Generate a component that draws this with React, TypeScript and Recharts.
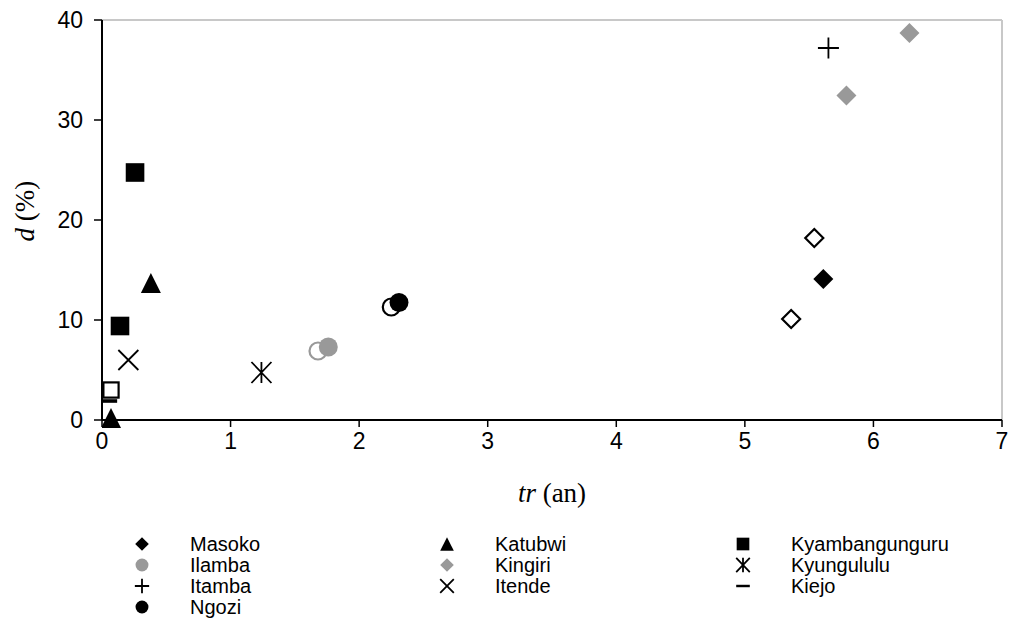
import React from 'react';
import { ScatterChart, Scatter, XAxis, YAxis, ReferenceLine, Legend, Label } from 'recharts';

// ---- data (tr in years, d in %) ----
const masoko = [{ tr: 5.61, d: 14.1 }];
const masokoOpen = [{ tr: 5.54, d: 18.2 }, { tr: 5.36, d: 10.1 }];
const ilamba = [{ tr: 1.76, d: 7.3 }];
const ilambaOpen = [{ tr: 1.68, d: 6.9 }];
const itamba = [{ tr: 5.65, d: 37.2 }];
const ngozi = [{ tr: 2.31, d: 11.75 }];
const ngoziOpen = [{ tr: 2.25, d: 11.3 }];
const katubwi = [{ tr: 0.38, d: 13.7 }, { tr: 0.07, d: 0.2 }];
const kingiri = [{ tr: 6.28, d: 38.7 }, { tr: 5.79, d: 32.45 }];
const itende = [{ tr: 0.205, d: 6.0 }];
const kyambangunguru = [{ tr: 0.257, d: 24.75 }, { tr: 0.14, d: 9.4 }];
const kyambangunguruOpen = [{ tr: 0.07, d: 3.0 }];
const kyungululu = [{ tr: 1.24, d: 4.75 }];
const kiejo = [{ tr: 0.04, d: 1.9 }];

const xTicks = [0, 1, 2, 3, 4, 5, 6, 7];
const yTicks = [0, 10, 20, 30, 40];
const legendOrder = [
  'Masoko', 'Katubwi', 'Kyambangunguru',
  'Ilamba', 'Kingiri', 'Kyungululu',
  'Itamba', 'Itende', 'Kiejo',
  'Ngozi',
];

// ---- styles ----
const BLACK = '#000000';
const GRAY = '#999999';
type Kind = 'diamond' | 'square' | 'circle' | 'triangle' | 'plus' | 'x' | 'asterisk' | 'dash';
const styles: Record<string, { kind: Kind; color: string }> = {
  Masoko: { kind: 'diamond', color: BLACK },
  Ilamba: { kind: 'circle', color: GRAY },
  Itamba: { kind: 'plus', color: BLACK },
  Ngozi: { kind: 'circle', color: BLACK },
  Katubwi: { kind: 'triangle', color: BLACK },
  Kingiri: { kind: 'diamond', color: GRAY },
  Itende: { kind: 'x', color: BLACK },
  Kyambangunguru: { kind: 'square', color: BLACK },
  Kyungululu: { kind: 'asterisk', color: BLACK },
  Kiejo: { kind: 'dash', color: BLACK },
};

function marker(kind: Kind, cx: number, cy: number, color: string, open: boolean, s: number, key?: string) {
  const fill = open ? '#ffffff' : color;
  const stroke = open ? color : 'none';
  const sw = 2.2;
  switch (kind) {
    case 'diamond': {
      const r = (open ? 9 : 10) * s;
      return <path key={key} d={`M${cx},${cy - r}L${cx + r},${cy}L${cx},${cy + r}L${cx - r},${cy}Z`} fill={fill} stroke={stroke} strokeWidth={sw} />;
    }
    case 'square': {
      const h = (open ? 7.6 : 9.3) * s;
      return <rect key={key} x={cx - h} y={cy - h} width={2 * h} height={2 * h} fill={fill} stroke={stroke} strokeWidth={sw} />;
    }
    case 'circle': {
      const r = (open ? 8.5 : 9.5) * s;
      return <circle key={key} cx={cx} cy={cy} r={r} fill={fill} stroke={stroke} strokeWidth={sw} />;
    }
    case 'triangle': {
      const h = 10 * s;
      return <path key={key} d={`M${cx},${cy - h}L${cx + h},${cy + h}L${cx - h},${cy + h}Z`} fill={fill} stroke={stroke} strokeWidth={sw} />;
    }
    case 'plus': {
      const h = 10.5 * s;
      return <path key={key} d={`M${cx - h},${cy}L${cx + h},${cy}M${cx},${cy - h}L${cx},${cy + h}`} stroke={color} strokeWidth={1.8} fill="none" />;
    }
    case 'x': {
      const h = 10 * s;
      return <path key={key} d={`M${cx - h},${cy - h}L${cx + h},${cy + h}M${cx - h},${cy + h}L${cx + h},${cy - h}`} stroke={color} strokeWidth={1.8} fill="none" />;
    }
    case 'asterisk': {
      const h = 10.5 * s;
      const w = 10 * s;
      return <path key={key} d={`M${cx},${cy - h}L${cx},${cy + h}M${cx - w},${cy - h}L${cx + w},${cy + h}M${cx - w},${cy + h}L${cx + w},${cy - h}`} stroke={color} strokeWidth={1.8} fill="none" />;
    }
    case 'dash': {
      const w = 10 * s;
      const t = 1.8 * s;
      return <rect key={key} x={cx - w} y={cy - t} width={2 * w} height={2 * t} fill={color} />;
    }
  }
  return null;
}

const shapeFor = (name: string, open = false) => (props: any) => {
  const st = styles[name];
  return marker(st.kind, props.cx, props.cy, st.color, open, 1);
};

const font = 'Liberation Sans, Arial, sans-serif';
const serif = 'Liberation Serif, Times New Roman, serif';
const TICK_FONT = 23;

const XTick = (props: any) => (
  <text x={props.x} y={props.y} dy="0.75em" textAnchor="middle" fontFamily={font} fontSize={TICK_FONT} fill="#000">
    {props.payload.value}
  </text>
);
const YTick = (props: any) => (
  <text x={props.x} y={props.y} dy="0.36em" textAnchor="end" fontFamily={font} fontSize={TICK_FONT} fill="#000">
    {props.payload.value}
  </text>
);

const LegendContent = () => {
  const colX = [142, 447, 743];
  return (
    <svg width={1010} height={100} style={{ display: 'block', overflow: 'visible' }}>
      {legendOrder.map((name, i) => {
        const col = i % 3;
        const row = Math.floor(i / 3);
        const y = 24 + row * 21;
        const st = styles[name];
        return (
          <g key={name}>
            {marker(st.kind, colX[col], y, st.color, false, 0.68)}
            <text x={colX[col] + 48} y={y + 7} fontFamily={font} fontSize={20} fill="#000">
              {name}
            </text>
          </g>
        );
      })}
    </svg>
  );
};

export default function App() {
  return (
    <div style={{ position: 'relative', width: 1010, height: 618, background: '#fff' }}>
      <style>{`body{margin:0;background:#fff;}`}</style>
      <ScatterChart width={1010} height={618} margin={{ top: 20, right: 8, bottom: 130, left: 0 }}>
        <XAxis
          type="number"
          dataKey="tr"
          domain={[0, 7]}
          ticks={xTicks}
          interval={0}
          allowDataOverflow
          height={68}
          tickSize={7}
          tickMargin={5}
          axisLine={{ stroke: '#000', strokeWidth: 2 }}
          tickLine={{ stroke: '#000', strokeWidth: 1.5 }}
          tick={<XTick />}
        >
          <Label
            content={(p: any) => {
              const vb = p.viewBox || { x: 102, y: 420, width: 900 };
              return (
                <text x={vb.x + vb.width / 2} y={vb.y + 82} textAnchor="middle" fontFamily={serif} fontSize={27} fill="#000">
                  <tspan fontStyle="italic">tr</tspan> (an)
                </text>
              );
            }}
          />
        </XAxis>
        <YAxis
          type="number"
          dataKey="d"
          domain={[0, 40]}
          ticks={yTicks}
          interval={0}
          width={102}
          tickSize={8}
          tickMargin={11}
          axisLine={{ stroke: '#000', strokeWidth: 2 }}
          tickLine={{ stroke: '#000', strokeWidth: 1.5 }}
          tick={<YTick />}
        >
          <Label
            content={(p: any) => {
              const vb = p.viewBox || { x: 0, y: 20, height: 400 };
              const x = 34;
              const y = vb.y + vb.height / 2 - 9;
              return (
                <text x={x} y={y} transform={`rotate(-90 ${x} ${y})`} textAnchor="middle" fontFamily={serif} fontSize={27} fill="#000">
                  <tspan fontStyle="italic">d</tspan> (%)
                </text>
              );
            }}
          />
        </YAxis>
        <ReferenceLine y={40} stroke="#c8c8c8" strokeWidth={2} />
        <ReferenceLine x={7} stroke="#c8c8c8" strokeWidth={2} />

        <Scatter name="Masoko open" data={masokoOpen} shape={shapeFor('Masoko', true)} legendType="none" isAnimationActive={false} />
        <Scatter name="Ilamba open" data={ilambaOpen} shape={shapeFor('Ilamba', true)} legendType="none" isAnimationActive={false} />
        <Scatter name="Ngozi open" data={ngoziOpen} shape={shapeFor('Ngozi', true)} legendType="none" isAnimationActive={false} />
        <Scatter name="Kyambangunguru open" data={kyambangunguruOpen} shape={shapeFor('Kyambangunguru', true)} legendType="none" isAnimationActive={false} />

        <Scatter name="Masoko" data={masoko} shape={shapeFor('Masoko')} isAnimationActive={false} />
        <Scatter name="Ilamba" data={ilamba} shape={shapeFor('Ilamba')} isAnimationActive={false} />
        <Scatter name="Itamba" data={itamba} shape={shapeFor('Itamba')} isAnimationActive={false} />
        <Scatter name="Ngozi" data={ngozi} shape={shapeFor('Ngozi')} isAnimationActive={false} />
        <Scatter name="Katubwi" data={katubwi} shape={shapeFor('Katubwi')} isAnimationActive={false} />
        <Scatter name="Kingiri" data={kingiri} shape={shapeFor('Kingiri')} isAnimationActive={false} />
        <Scatter name="Itende" data={itende} shape={shapeFor('Itende')} isAnimationActive={false} />
        <Scatter name="Kyambangunguru" data={kyambangunguru} shape={shapeFor('Kyambangunguru')} isAnimationActive={false} />
        <Scatter name="Kyungululu" data={kyungululu} shape={shapeFor('Kyungululu')} isAnimationActive={false} />
        <Scatter name="Kiejo" data={kiejo} shape={shapeFor('Kiejo')} isAnimationActive={false} />

        <Legend
          content={() => <LegendContent />}
          wrapperStyle={{ position: 'absolute', left: 0, top: 520, width: 1010, height: 0, overflow: 'visible' }}
        />
      </ScatterChart>
    </div>
  );
}
